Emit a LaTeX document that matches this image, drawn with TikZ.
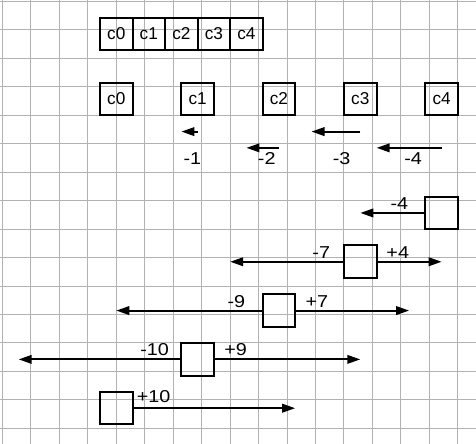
\documentclass[tikz,border=0pt]{standalone}
\usepackage{fontspec}
\usepackage{graphicx}
\setmainfont{Liberation Sans}
\usetikzlibrary{arrows.meta}
\begin{document}
\begin{tikzpicture}[x=16.27pt,y=-16.27pt,
  cell/.style={draw,line width=2pt,minimum size=32.54pt,inner sep=0pt,font=\fontsize{17.2}{20}\selectfont},
  arr/.style={line width=2pt,-{Triangle[length=13pt,width=8.5pt]}},
  lab/.style={inner sep=0pt,font=\fontsize{17.2}{20}\selectfont},
  gridline/.style={draw=black!30,line width=0.8pt}]
\useasboundingbox (-0.145,-0.088) rectangle (29.11,27.14);
\clip (-0.145,-0.088) rectangle (29.11,27.14);
\fill[white] (-1,-1) rectangle (30,28);
\draw[gridline] (-1,-1) grid (30,28);
% top strip
\node[cell] (t0) at (7,2) {c0};
\node[cell] (t1) at (9,2) {c1};
\node[cell] (t2) at (11,2) {c2};
\node[cell] (t3) at (13,2) {c3};
\node[cell] (t4) at (15,2) {c4};
% separated cells
\node[cell] (c0) at (7,6) {c0};
\node[cell] (c1) at (12,6) {c1};
\node[cell] (c2) at (17,6) {c2};
\node[cell] (c3) at (22,6) {c3};
\node[cell] (c4) at (27,6) {c4};
% shift arrows
\coordinate (a1s) at (12,8); \coordinate (a1e) at (11,8);
\coordinate (a2s) at (17,9); \coordinate (a2e) at (15,9);
\coordinate (a3s) at (22,8); \coordinate (a3e) at (19,8);
\coordinate (a4s) at (27,9); \coordinate (a4e) at (23,9);
\draw[arr] (a1s) -- (a1e);
\draw[arr] (a2s) -- (a2e);
\draw[arr] (a3s) -- (a3e);
\draw[arr] (a4s) -- (a4e);
\node[lab] (l1) at (11.68,9.65) {\scalebox{1.15}[1]{-1}};
\node[lab] (l2) at (16.25,9.65) {\scalebox{1.15}[1]{-2}};
\node[lab] (l3) at (20.85,9.65) {\scalebox{1.15}[1]{-3}};
\node[lab] (l4) at (25.25,9.65) {\scalebox{1.15}[1]{-4}};
% lower boxes
\node[cell] (b4) at (27,13) {};
\node[cell] (b3) at (22,16) {};
\node[cell] (b2) at (17,19) {};
\node[cell] (b1) at (12,22) {};
\node[cell] (b0) at (7,25) {};
\coordinate (e4l) at (22,13);
\coordinate (e3l) at (14,16); \coordinate (e3r) at (27,16);
\coordinate (e2l) at (7,19);  \coordinate (e2r) at (25,19);
\coordinate (e1l) at (1,22);  \coordinate (e1r) at (22,22);
\coordinate (e0r) at (18,25);
\draw[arr] (b4.west) -- (e4l);
\draw[arr] (b3.west) -- (e3l);
\draw[arr] (b3.east) -- (e3r);
\draw[arr] (b2.west) -- (e2l);
\draw[arr] (b2.east) -- (e2r);
\draw[arr] (b1.west) -- (e1l);
\draw[arr] (b1.east) -- (e1r);
\draw[arr] (b0.east) -- (e0r);
\node[lab] (m4) at (24.4,12.43) {\scalebox{1.15}[1]{-4}};
\node[lab] (m3) at (19.6,15.43) {\scalebox{1.15}[1]{-7}};
\node[lab] (p3) at (24.3,15.43) {\scalebox{1.15}[1]{+4}};
\node[lab] (m2) at (14.38,18.45) {\scalebox{1.15}[1]{-9}};
\node[lab] (p2) at (19.33,18.45) {\scalebox{1.15}[1]{+7}};
\node[lab] (m1) at (9.36,21.37) {\scalebox{1.15}[1]{-10}};
\node[lab] (p1) at (14.34,21.37) {\scalebox{1.15}[1]{+9}};
\node[lab] (p0) at (9.3,24.3) {\scalebox{1.15}[1]{+10}};
\end{tikzpicture}
\end{document}
